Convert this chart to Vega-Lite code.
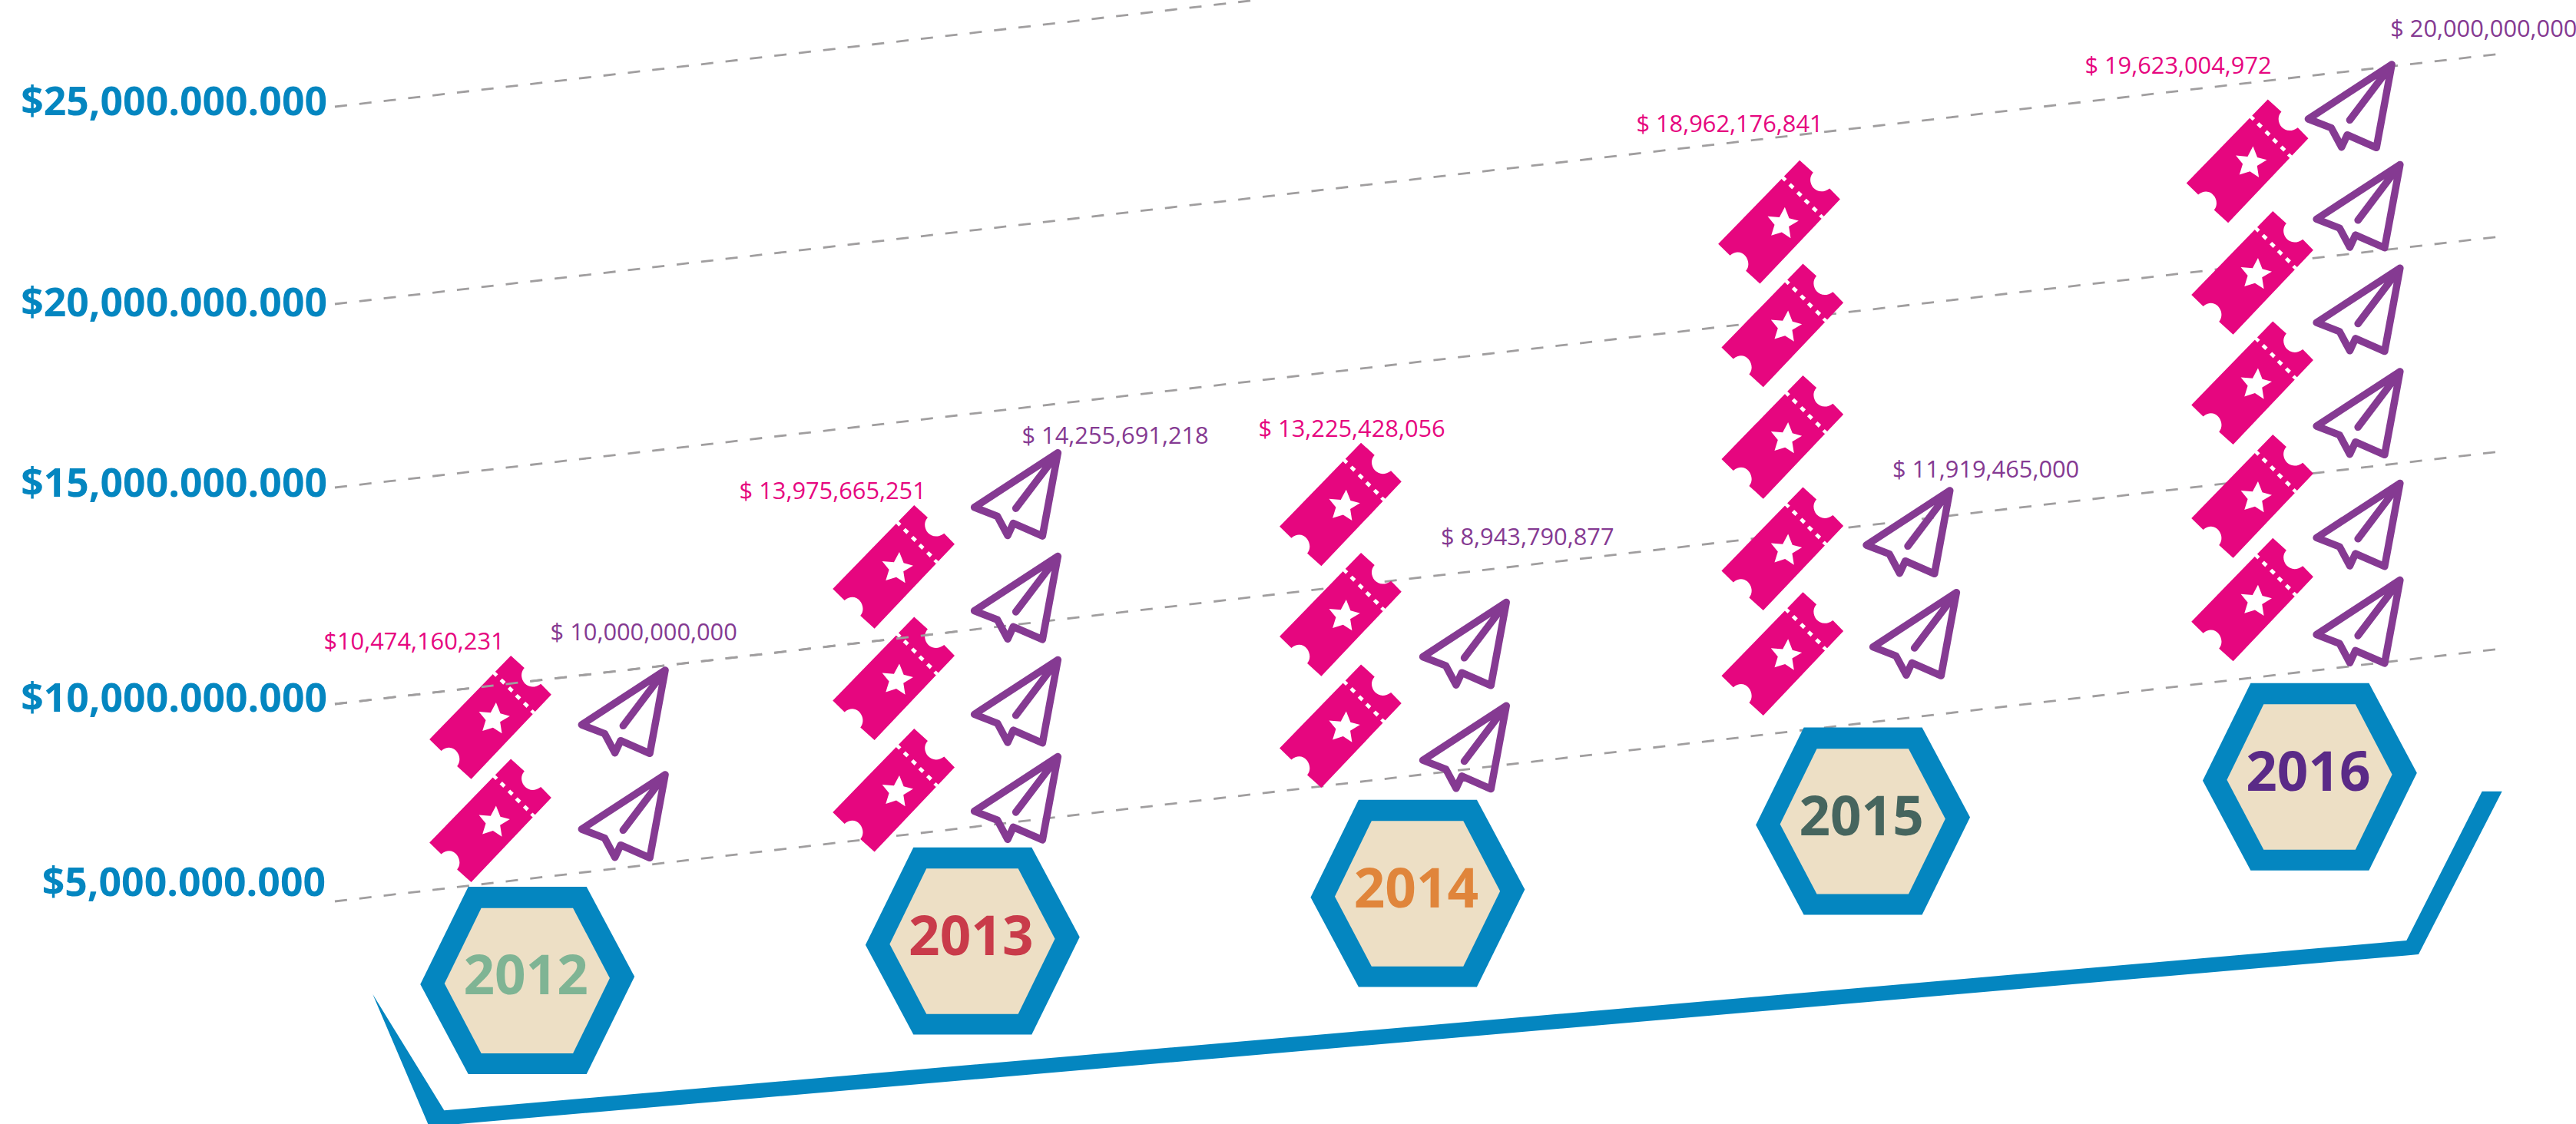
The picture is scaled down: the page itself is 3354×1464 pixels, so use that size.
{"$schema":"https://vega.github.io/schema/vega-lite/v6.json","width":3354,"height":1464,"padding":0,"autosize":{"type":"none"},"background":"#ffffff","config":{"view":{"stroke":null}},
"datasets":{
"grid":[{"level":25000000000,"x":436,"y":139},{"level":25000000000,"x":1636,"y":0},{"level":20000000000,"x":436,"y":396},{"level":20000000000,"x":3256,"y":70},{"level":15000000000,"x":436,"y":635},{"level":15000000000,"x":3256,"y":308},{"level":10000000000,"x":436,"y":917},{"level":10000000000,"x":3256,"y":588},{"level":5000000000,"x":436,"y":1174},{"level":5000000000,"x":3256,"y":845}],
"gridOver":[{"level":10000000000,"x":436,"y":917},{"level":10000000000,"x":1260,"y":820.9}],
"ticks":[{"label":"$25,000.000.000","x":426,"y":134},{"label":"$20,000.000.000","x":426,"y":396},{"label":"$15,000.000.000","x":426,"y":631},{"label":"$10,000.000.000","x":426,"y":911},{"label":"$5,000.000.000","x":424,"y":1151}],
"bar":[{"x":485.3,"top":1295,"bottom":1295},{"x":557.3,"top":1412,"bottom":1464},{"x":578.3,"top":1446.3,"bottom":1464},{"x":597,"top":1444.7,"bottom":1464},{"x":3133.3,"top":1225,"bottom":1244.4},{"x":3149,"top":1194,"bottom":1243},{"x":3231.7,"top":1030.7,"bottom":1081.5},{"x":3257.7,"top":1030.7,"bottom":1030.7}],
"tickets":[{"year":2012,"x":638.5,"y":934},{"year":2012,"x":638.5,"y":1068.4},{"year":2013,"x":1163.6,"y":738},{"year":2013,"x":1163.6,"y":883.4},{"year":2013,"x":1163.6,"y":1028.9},{"year":2014,"x":1745.4,"y":656.7},{"year":2014,"x":1745.4,"y":800},{"year":2014,"x":1745.4,"y":945.4},{"year":2015,"x":2316.5,"y":288.8},{"year":2015,"x":2320.8,"y":423.5},{"year":2015,"x":2320.8,"y":569},{"year":2015,"x":2320.8,"y":714.4},{"year":2015,"x":2320.8,"y":851.3},{"year":2016,"x":2926.1,"y":209.6},{"year":2016,"x":2932.6,"y":355},{"year":2016,"x":2932.6,"y":498.4},{"year":2016,"x":2932.6,"y":646},{"year":2016,"x":2932.6,"y":780.7}],
"planes":[{"year":2012,"x":811.7,"y":927},{"year":2012,"x":811.7,"y":1063},{"year":2013,"x":1323,"y":643.8},{"year":2013,"x":1323,"y":778.6},{"year":2013,"x":1323,"y":913.4},{"year":2013,"x":1323,"y":1039.6},{"year":2014,"x":1906.9,"y":838.5},{"year":2014,"x":1906.9,"y":973.2},{"year":2015,"x":2484.4,"y":693},{"year":2015,"x":2493,"y":825.7},{"year":2016,"x":3059.8,"y":138},{"year":2016,"x":3070.5,"y":268.4},{"year":2016,"x":3070.5,"y":403.2},{"year":2016,"x":3070.5,"y":538},{"year":2016,"x":3070.5,"y":683.4},{"year":2016,"x":3070.5,"y":809.6}],
"years":[{"year":"2012","x":686.7,"y":1277},{"year":"2013","x":1266.3,"y":1225.6},{"year":"2014","x":1845.9,"y":1163.6},{"year":"2015","x":2425.6,"y":1069.5},{"year":"2016","x":3007.4,"y":1011.7}],
"labels":[{"series":"tickets","year":2012,"label":"$10,474,160,231","x":421.4,"y":837},{"series":"tickets","year":2013,"label":"$ 13,975,665,251","x":962.6,"y":641},{"series":"tickets","year":2014,"label":"$ 13,225,428,056","x":1638.5,"y":560},{"series":"tickets","year":2015,"label":"$ 18,962,176,841","x":2130.4,"y":163},{"series":"tickets","year":2016,"label":"$ 19,623,004,972","x":2714.4,"y":87},{"series":"planes","year":2012,"label":"$ 10,000,000,000","x":716.6,"y":825},{"series":"planes","year":2013,"label":"$ 14,255,691,218","x":1330.5,"y":569},{"series":"planes","year":2014,"label":"$ 8,943,790,877","x":1875.9,"y":701},{"series":"planes","year":2015,"label":"$ 11,919,465,000","x":2464,"y":613},{"series":"planes","year":2016,"label":"$ 20,000,000,000","x":3112.2,"y":39}]
},
"encoding":{"x":{"field":"x","type":"quantitative","scale":{"domain":[0,3354],"nice":false,"zero":false},"axis":null},"y":{"field":"y","type":"quantitative","scale":{"domain":[1464,0],"nice":false,"zero":false},"axis":null}},
"layer":[
{"data":{"name":"grid"},"mark":{"type":"line","color":"#A09E9F","strokeWidth":2.8,"strokeDash":[16,16]},"encoding":{"detail":{"field":"level"}}},
{"data":{"name":"bar"},"mark":{"type":"area","color":"#0486C0","opacity":1},"encoding":{"y":{"field":"top","type":"quantitative","scale":{"domain":[1464,0],"nice":false,"zero":false},"axis":null},"y2":{"field":"bottom"}}},
{"data":{"name":"tickets"},"mark":{"type":"point","filled":true,"opacity":1,"color":"#E6067F","size":25600,"shape":"M.333,-1 L.554,-.8 C.417,-.654,.604,-.383,.821,-.542 L.992,-.367 L-.3125,1.008 L-.542,.8 C-.417,.654,-.604,.383,-.8,.55 L-.992,.3625 Z"}},
{"data":{"name":"tickets"},"mark":{"type":"point","filled":true,"opacity":1,"color":"#ffffff","size":25600,"shape":"M.092,-.2375 L.1625,-.058 L.317,-.017 L.158,.079 L.1875,.267 L.042,.171 L-.129,.225 L-.075,.05 L-.1875,-.0875 L.004,-.071 Z M.15,-.587 L.192,-.629 L.25,-.575 L.2085,-.529 Z M.279,-.458 L.321,-.5 L.379,-.446 L.3375,-.4 Z M.4,-.333 L.442,-.375 L.5,-.321 L.4585,-.275 Z M.529,-.208 L.571,-.25 L.629,-.196 L.5875,-.15 Z M.029,-.708 L.071,-.746 L.125,-.696 L.083,-.654 Z M.646,-.0875 L.6875,-.125 L.733,-.083 L.692,-.046 Z"}},
{"data":{"name":"gridOver"},"mark":{"type":"line","color":"#A09E9F","strokeWidth":2.8,"strokeDash":[16,16]},"encoding":{"detail":{"field":"level"}}},
{"data":{"name":"planes"},"mark":{"type":"point","filled":false,"opacity":1,"fillOpacity":0,"color":"#853A92","strokeWidth":9.5,"strokeJoin":"round","strokeCap":"round","size":14400,"shape":"M.906,-.9 L-.906,.283 L-.406,.478 L-.183,.894 L-.061,.628 L.572,.906 Z M.906,-.9 L-.006,.306"}},
{"data":{"name":"years"},"mark":{"type":"point","filled":true,"opacity":1,"color":"#0486C0","size":78400,"shape":"M-.996,.036 L-.55,-.871 L.55,-.871 L.996,-.036 L.55,.871 L-.55,.871 Z"}},
{"data":{"name":"years"},"mark":{"type":"point","filled":true,"opacity":1,"color":"#EDDFC5","size":78400,"shape":"M-.771,.029 L-.429,-.674 L.424,-.674 L.766,-.021 L.424,.679 L-.429,.679 Z"}},
{"data":{"name":"years"},"mark":{"type":"text","font":"Open Sans","fontWeight":"bold","fontSize":71,"align":"center","baseline":"middle","dy":-3,"dx":-2},"encoding":{"text":{"field":"year"},"color":{"field":"year","type":"nominal","scale":{"domain":["2012","2013","2014","2015","2016"],"range":["#7FB494","#C93B4A","#E0853B","#46655E","#5A2A87"]},"legend":null}}},
{"data":{"name":"ticks"},"mark":{"type":"text","font":"Open Sans","fontWeight":"bold","fontSize":51.7,"align":"right","baseline":"middle","color":"#0486C0"},"encoding":{"text":{"field":"label"}}},
{"data":{"name":"labels"},"transform":[{"filter":"datum.series==='tickets'"}],"mark":{"type":"text","font":"Open Sans","fontSize":30.8,"align":"left","baseline":"middle","color":"#E6067F"},"encoding":{"text":{"field":"label"}}},
{"data":{"name":"labels"},"transform":[{"filter":"datum.series==='planes'"}],"mark":{"type":"text","font":"Open Sans","fontSize":30.8,"align":"left","baseline":"middle","color":"#853A92"},"encoding":{"text":{"field":"label"}}}
]}
